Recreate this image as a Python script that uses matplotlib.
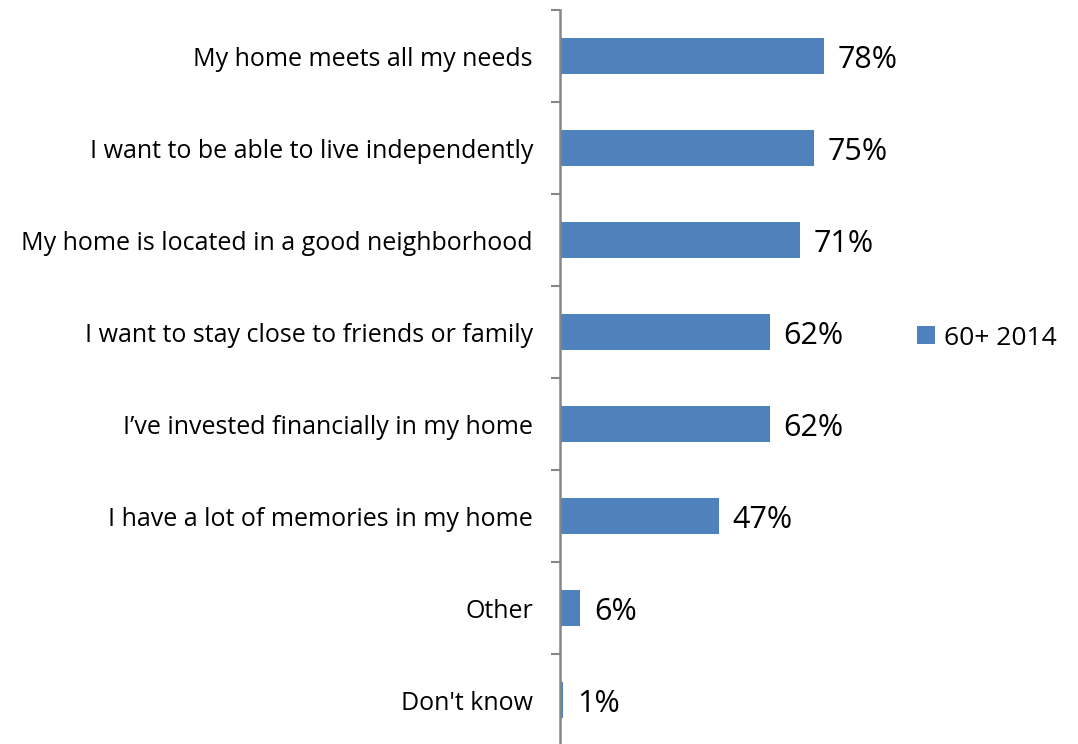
import matplotlib.pyplot as plt
import numpy as np

categories = [
    "My home meets all my needs",
    "I want to be able to live independently",
    "My home is located in a good neighborhood",
    "I want to stay close to friends or family",
    "I\u2019ve invested financially in my home",
    "I have a lot of memories in my home",
    "Other",
    "Don't know",
]
values = [78, 75, 71, 62, 62, 47, 6, 1]
series_name = "60+ 2014"

bar_color = "#4F81BD"
axis_color = "#868686"

plt.rcParams['font.family'] = ['Open Sans', 'DejaVu Sans']

fig = plt.figure(figsize=(10.78, 7.44), dpi=100)
ax = fig.add_axes([560 / 1078, -2 / 744, 338 / 1078, 736 / 744])

y = np.arange(len(categories))
bars = ax.barh(y, values, height=0.40, color=bar_color, label=series_name)

ax.set_xlim(0, 100)
ax.set_ylim(len(categories) - 0.5, -0.5)

# 値ラベル
for yi, v in zip(y, values):
    ax.text(v + 4.1, yi + 0.04, f"{v}%", va='center', ha='left', fontsize=22, color='black')

ax.set_yticks(y)
ax.set_yticklabels(categories, fontsize=18)
ax.set_yticks(np.arange(-0.5, len(categories), 1), minor=True)
ax.tick_params(axis='y', which='major', length=0, pad=19.5)
ax.tick_params(axis='y', which='minor', length=6.5, width=1.5, color=axis_color)
ax.set_xticks([])

for side in ['top', 'right', 'bottom']:
    ax.spines[side].set_visible(False)
ax.spines['left'].set_color(axis_color)
ax.spines['left'].set_linewidth(1.8)

fig.legend(handles=[bars], labels=[series_name], loc='center left',
           bbox_to_anchor=(917 / 1078, 1 - 338 / 744), frameon=False, borderpad=0,
           borderaxespad=0, fontsize=19, handlelength=0.68, handleheight=0.68,
           handletextpad=0.35)

fig.savefig('out.png', dpi=100)
plt.close(fig)
